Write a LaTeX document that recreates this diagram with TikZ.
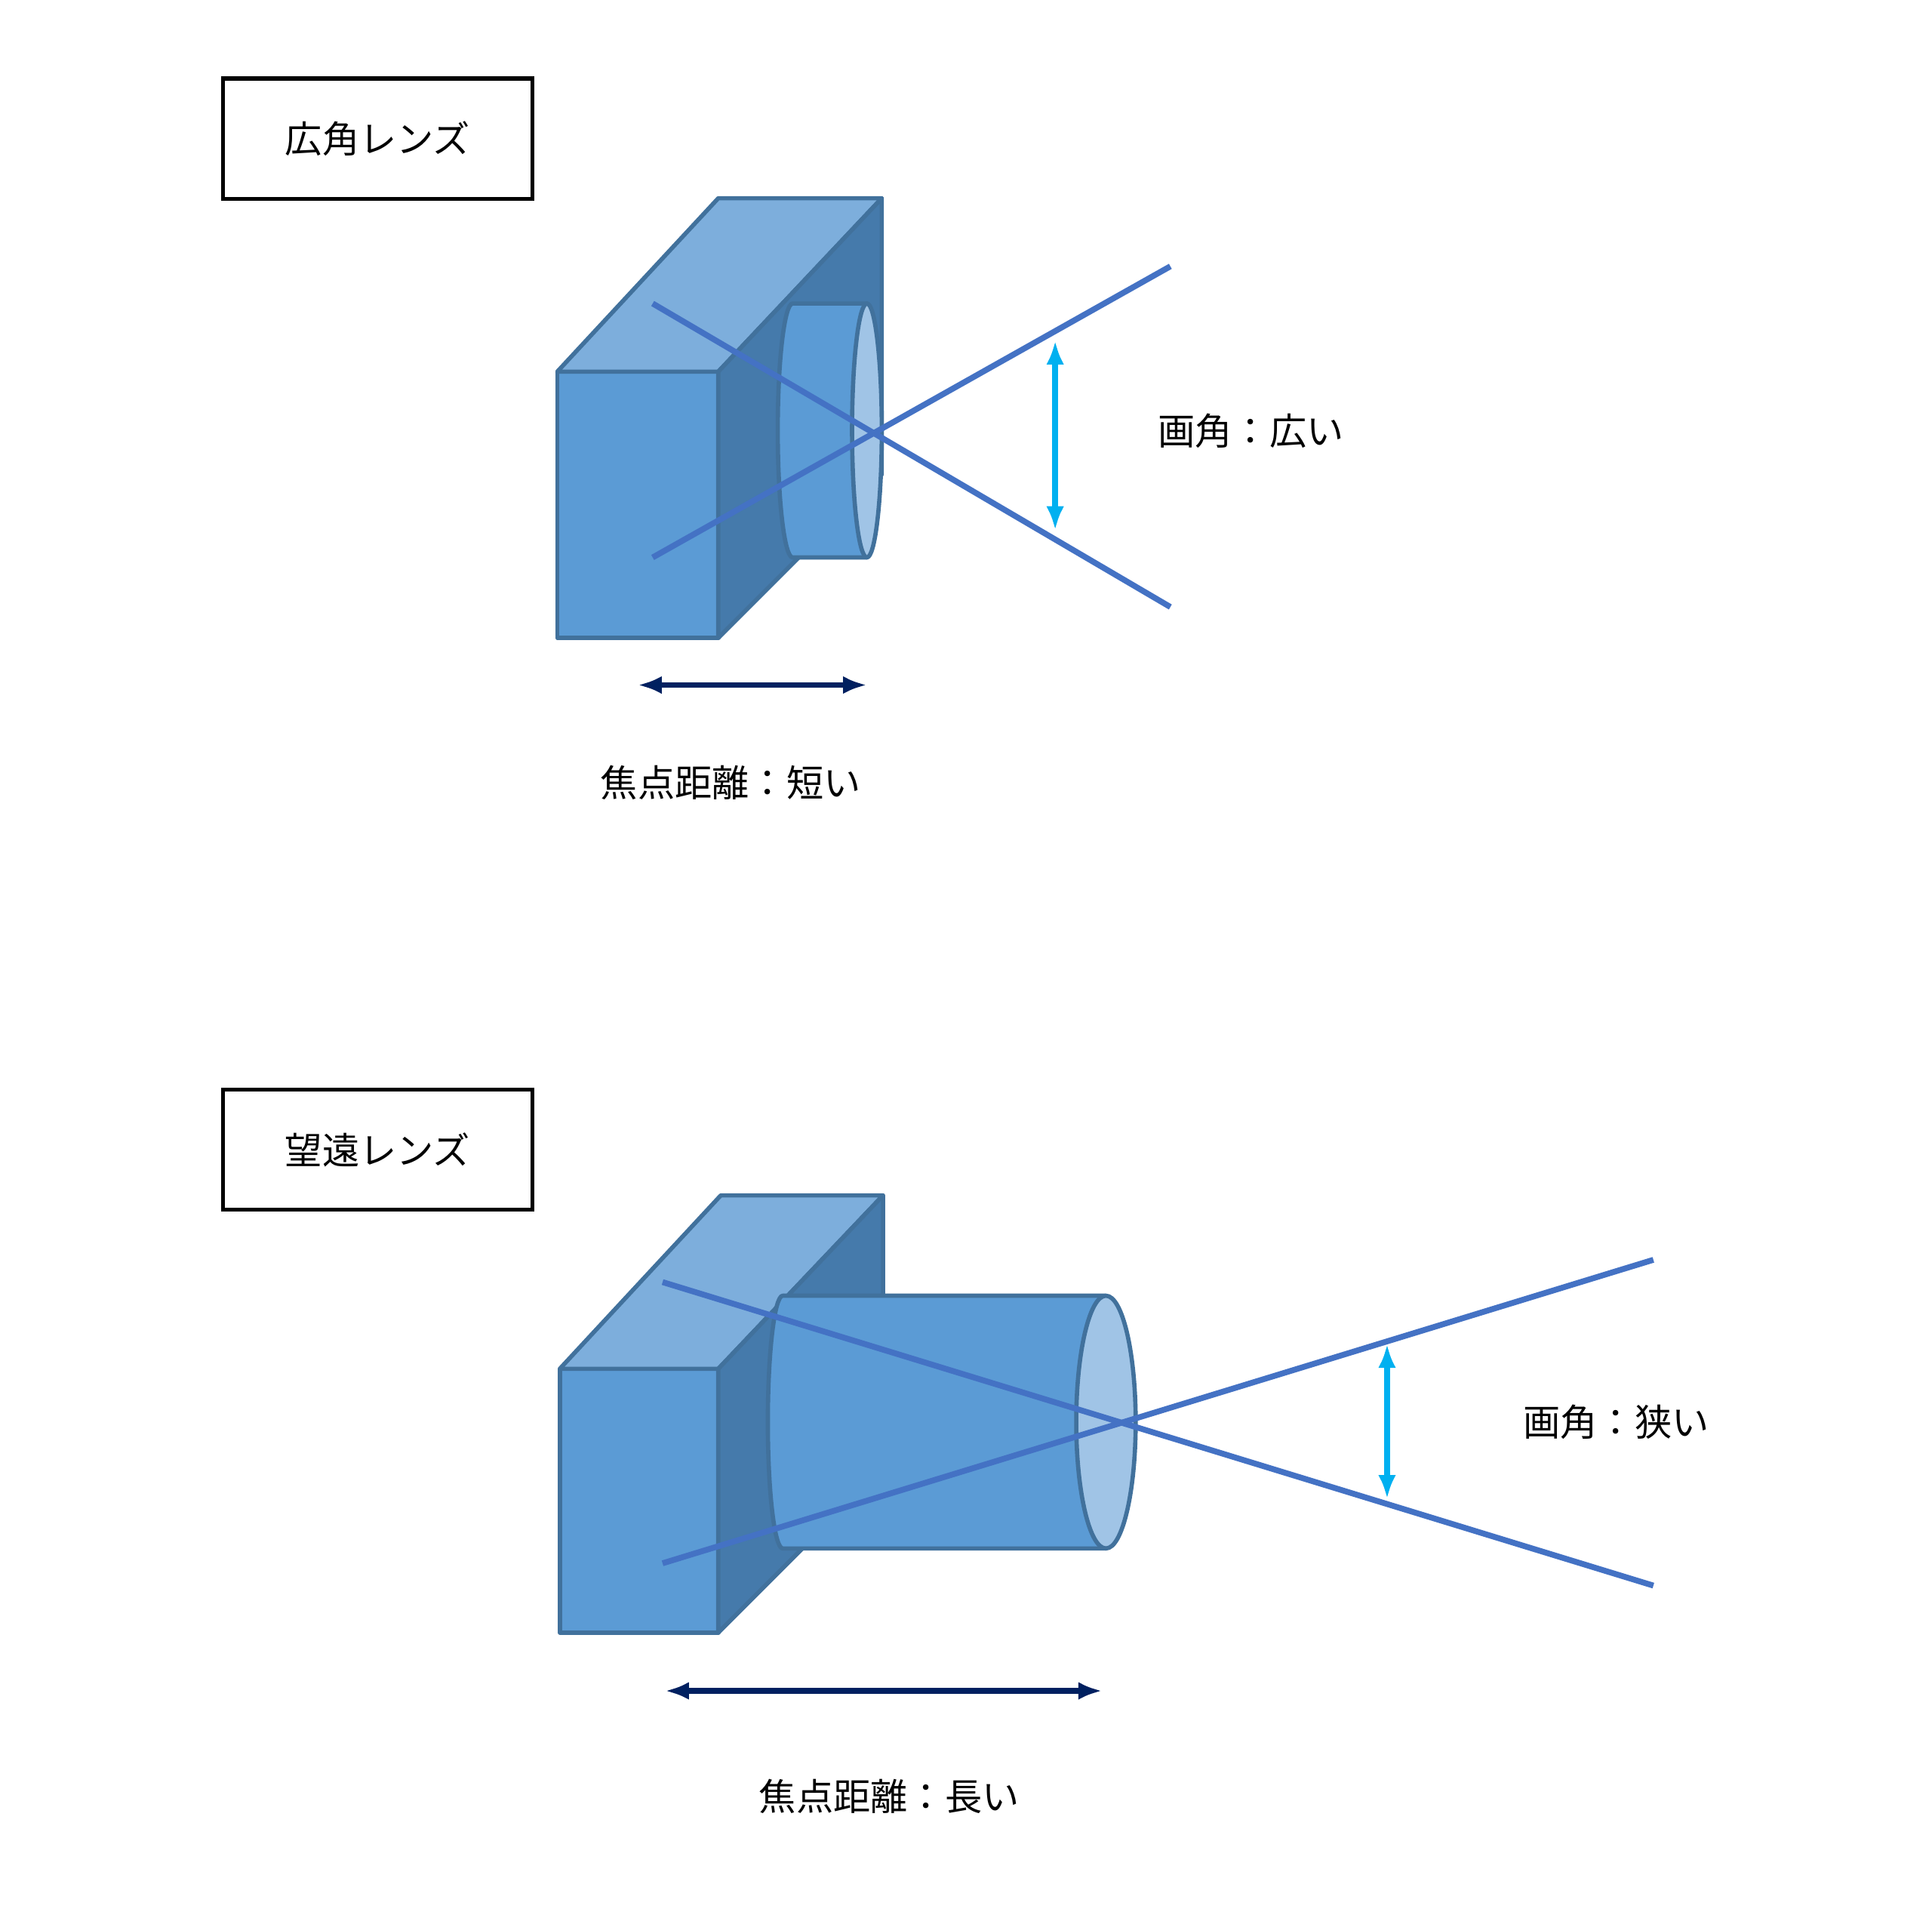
\documentclass[tikz,border=0pt]{standalone}
\usepackage{fontspec}
\newfontfamily\jpfont{Noto Sans CJK JP}
\usepackage{tikz}
\usetikzlibrary{arrows.meta, calc}
\definecolor{front}{HTML}{5B9BD5}
\definecolor{topc}{HTML}{7DAEDC}
\definecolor{sidec}{HTML}{457AAB}
\definecolor{edge}{HTML}{41719C}
\definecolor{glass}{HTML}{A0C4E6}
\definecolor{ray}{HTML}{4472C4}
\definecolor{angle}{HTML}{00B0F0}
\definecolor{focal}{HTML}{002060}
\tikzset{
  face/.style={draw=edge, line width=1.6pt, line join=round},
  lbl/.style={font=\jpfont\fontsize{14}{16}\selectfont},
  title/.style={lbl, draw, line width=1.6pt, minimum width=250\pxu, minimum height=97\pxu},
  rayline/.style={ray, line width=2.2pt},
  anglearrow/.style={angle, line width=2.2pt, {Latex[length=9pt]}-{Latex[length=9pt]}},
  focalarrow/.style={focal, line width=2.2pt, {Latex[length=9pt]}-{Latex[length=9pt]}}
}
\def\pxu{*0.0164cm}
\begin{document}
\begin{tikzpicture}[x=0.0164cm, y=-0.0164cm]
\useasboundingbox (0,0) rectangle (1560,1541);
% wide angle
\node[title] (wtitle) at (305,112) {広角レンズ};
\fill[face, fill=front] (450,300) rectangle (580,515);
\fill[face, fill=topc] (450,300) -- (580,160) -- (712,160) -- (580,300) -- cycle;
\fill[face, fill=sidec] (580,300) -- (712,160) -- (712,383) -- (580,515) -- cycle;
\fill[face, fill=front] (700,245) -- (640,245) arc[start angle=270, end angle=90, x radius=12, y radius=102.5] -- (700,450) -- cycle;
\fill[face, fill=glass] (700,347.5) ellipse[x radius=12, y radius=102.5];
\coordinate (wa1) at (527,245); \coordinate (wa2) at (945,490);
\coordinate (wb1) at (527,450); \coordinate (wb2) at (945,215);
\draw[rayline] (wa1) -- (wa2);
\draw[rayline] (wb1) -- (wb2);
\coordinate (wv1) at (852,275); \coordinate (wv2) at (852,428);
\draw[anglearrow] (wv1) -- (wv2);
\node[lbl] (wangle) at (1010,348) {画角：広い};
\coordinate (wf1) at (515,553); \coordinate (wf2) at (700,553);
\draw[focalarrow] (wf1) -- (wf2);
\node[lbl] (wfocal) at (590,632) {焦点距離：短い};
% telephoto
\node[title] (ttitle) at (305,928) {望遠レンズ};
\fill[face, fill=front] (452,1105) rectangle (580,1318);
\fill[face, fill=topc] (452,1105) -- (582,965) -- (713,965) -- (580,1105) -- cycle;
\fill[face, fill=sidec] (580,1105) -- (713,965) -- (713,1185) -- (580,1318) -- cycle;
\fill[face, fill=front] (893,1046) -- (632,1046) arc[start angle=270, end angle=90, x radius=12, y radius=102] -- (893,1250) -- cycle;
\fill[face, fill=glass] (893,1148) ellipse[x radius=24, y radius=102];
\coordinate (ta1) at (535,1035); \coordinate (ta2) at (1335,1280);
\coordinate (tb1) at (535,1262); \coordinate (tb2) at (1335,1017);
\draw[rayline] (ta1) -- (ta2);
\draw[rayline] (tb1) -- (tb2);
\coordinate (tv1) at (1120,1085); \coordinate (tv2) at (1120,1210);
\draw[anglearrow] (tv1) -- (tv2);
\node[lbl] (tangle) at (1305,1148) {画角：狭い};
\coordinate (tf1) at (537,1365); \coordinate (tf2) at (890,1365);
\draw[focalarrow] (tf1) -- (tf2);
\node[lbl] (tfocal) at (718,1450) {焦点距離：長い};
\end{tikzpicture}
\end{document}
